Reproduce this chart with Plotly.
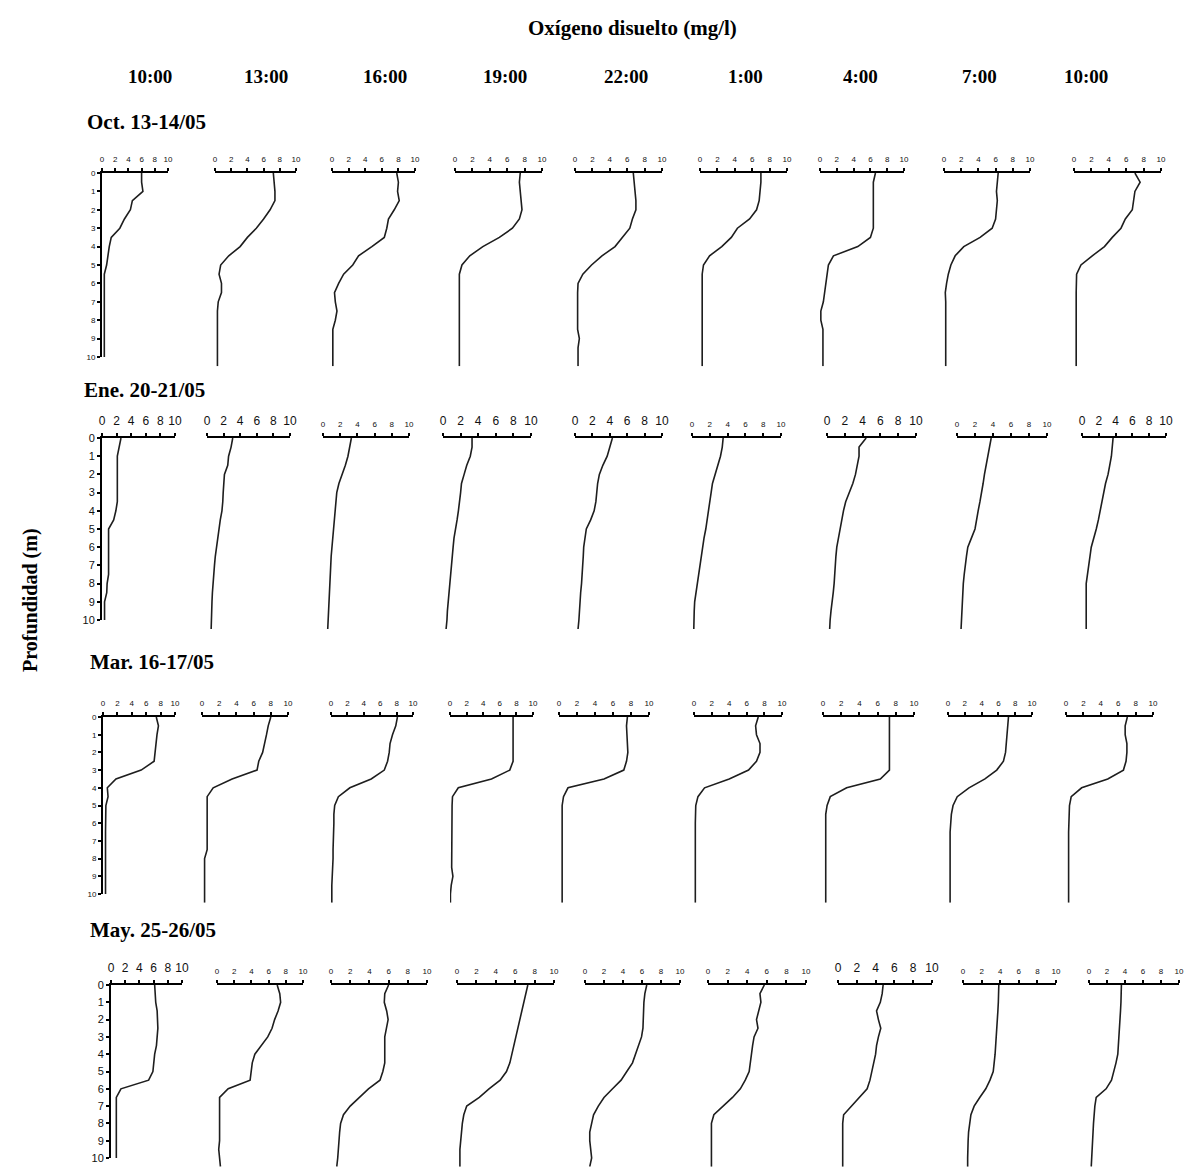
import plotly.graph_objects as go

W, H = 1198, 1174

# ---------------- data ----------------
depth = [0, 0.5, 1, 1.5, 2, 2.5, 3, 3.5, 4, 4.5, 5, 5.5, 6, 6.5, 7, 7.5, 8, 8.5, 9, 9.5, 10, 10.5]

times = ["10:00", "13:00", "16:00", "19:00", "22:00", "1:00", "4:00", "7:00", "10:00"]
campaigns = ["Oct. 13-14/05", "Ene. 20-21/05", "Mar. 16-17/05", "May. 25-26/05"]
x_tick_vals = [0, 2, 4, 6, 8, 10]
x_tick_text = ["0", "2", "4", "6", "8", "10"]
y_tick_vals = [0, 1, 2, 3, 4, 5, 6, 7, 8, 9, 10]
y_tick_text = ["0", "1", "2", "3", "4", "5", "6", "7", "8", "9", "10"]

oct_do = [
    [6.0, 6.0, 6.2, 4.6, 4.3, 3.4, 2.7, 1.4, 1.1, 0.9, 0.7, 0.35, 0.35, 0.35, 0.35, 0.35, 0.35, 0.35, 0.35, 0.35, 0.35, 0.35],
    [7.2, 7.3, 7.4, 7.4, 6.8, 6.0, 5.1, 4.0, 3.1, 1.7, 0.7, 0.5, 0.8, 0.8, 0.4, 0.3, 0.3, 0.3, 0.3, 0.3, 0.3, 0.3],
    [7.8, 8.0, 7.9, 8.1, 7.5, 6.8, 6.6, 6.3, 4.8, 3.2, 2.5, 1.4, 0.8, 0.3, 0.4, 0.6, 0.4, 0.1, 0.1, 0.1, 0.1, 0.1],
    [7.5, 7.4, 7.5, 7.6, 7.7, 7.4, 6.6, 5.1, 3.2, 1.7, 0.8, 0.5, 0.5, 0.5, 0.5, 0.5, 0.5, 0.5, 0.5, 0.5, 0.5, 0.5],
    [6.7, 6.8, 6.9, 7.0, 7.0, 6.6, 6.3, 5.4, 4.6, 3.1, 1.9, 0.9, 0.35, 0.3, 0.3, 0.3, 0.3, 0.3, 0.5, 0.35, 0.35, 0.35],
    [7.0, 7.0, 6.9, 6.8, 6.5, 5.7, 4.3, 3.6, 2.5, 1.1, 0.4, 0.25, 0.25, 0.25, 0.25, 0.25, 0.25, 0.25, 0.25, 0.25, 0.25, 0.25],
    [6.6, 6.35, 6.35, 6.35, 6.35, 6.35, 6.35, 6.0, 4.5, 1.6, 1.0, 0.85, 0.7, 0.55, 0.4, 0.1, 0.1, 0.35, 0.35, 0.35, 0.35, 0.35],
    [6.3, 6.2, 6.1, 6.2, 6.1, 6.0, 5.6, 4.2, 2.3, 1.3, 0.8, 0.5, 0.3, 0.15, 0.2, 0.2, 0.2, 0.2, 0.2, 0.2, 0.2, 0.2],
    [7.0, 7.6, 7.0, 6.85, 6.7, 5.9, 5.4, 4.4, 3.5, 2.1, 0.8, 0.3, 0.25, 0.25, 0.25, 0.25, 0.25, 0.25, 0.25, 0.25, 0.25, 0.25],
]

ene_do = [
    [2.6, 2.3, 2.1, 2.1, 2.1, 2.1, 2.1, 2.1, 1.9, 1.6, 0.9, 0.9, 0.9, 0.9, 0.9, 0.9, 0.7, 0.65, 0.35, 0.35, 0.35, 0.35],
    [3.1, 2.9, 2.6, 2.5, 2.1, 2.0, 1.95, 1.9, 1.8, 1.6, 1.45, 1.3, 1.1, 1.0, 0.9, 0.8, 0.7, 0.65, 0.6, 0.55, 0.5, 0.5],
    [3.3, 3.1, 2.9, 2.6, 2.2, 1.85, 1.6, 1.5, 1.4, 1.3, 1.2, 1.1, 1.0, 0.95, 0.9, 0.85, 0.8, 0.75, 0.7, 0.65, 0.6, 0.55],
    [3.3, 3.3, 3.1, 2.7, 2.4, 2.1, 2.0, 1.9, 1.75, 1.6, 1.4, 1.25, 1.15, 1.05, 0.95, 0.85, 0.75, 0.7, 0.6, 0.5, 0.45, 0.35],
    [4.3, 4.0, 3.7, 3.2, 2.8, 2.6, 2.5, 2.4, 2.2, 1.8, 1.3, 1.15, 1.0, 0.95, 0.9, 0.8, 0.75, 0.65, 0.6, 0.5, 0.45, 0.35],
    [3.5, 3.4, 3.2, 2.9, 2.6, 2.3, 2.15, 2.0, 1.9, 1.75, 1.55, 1.35, 1.2, 1.05, 0.9, 0.8, 0.65, 0.45, 0.3, 0.25, 0.2, 0.2],
    [4.4, 3.6, 3.6, 3.4, 3.2, 2.9, 2.5, 2.1, 1.85, 1.65, 1.5, 1.3, 1.1, 1.0, 0.95, 0.85, 0.8, 0.7, 0.55, 0.45, 0.35, 0.3],
    [3.8, 3.6, 3.4, 3.2, 3.05, 2.9, 2.75, 2.55, 2.35, 2.2, 2.0, 1.6, 1.2, 1.05, 0.9, 0.8, 0.7, 0.65, 0.6, 0.55, 0.5, 0.45],
    [3.7, 3.6, 3.5, 3.3, 3.1, 2.8, 2.6, 2.4, 2.15, 1.95, 1.7, 1.4, 1.1, 0.95, 0.8, 0.65, 0.5, 0.5, 0.5, 0.5, 0.5, 0.5],
]

mar_do = [
    [7.4, 7.7, 7.5, 7.4, 7.3, 7.1, 5.3, 1.8, 0.6, 0.7, 0.4, 0.35, 0.35, 0.35, 0.35, 0.35, 0.35, 0.35, 0.35, 0.35, 0.35, 0.35],
    [8.0, 7.7, 7.5, 7.3, 7.05, 6.6, 6.4, 3.5, 1.3, 0.6, 0.6, 0.6, 0.6, 0.6, 0.6, 0.6, 0.3, 0.3, 0.3, 0.3, 0.3, 0.3],
    [8.1, 7.9, 7.5, 7.2, 7.1, 6.9, 6.5, 4.9, 2.3, 0.9, 0.45, 0.35, 0.35, 0.3, 0.3, 0.25, 0.25, 0.2, 0.1, 0.1, 0.1, 0.1],
    [7.6, 7.6, 7.6, 7.6, 7.6, 7.6, 7.2, 5.0, 1.0, 0.3, 0.25, 0.25, 0.2, 0.2, 0.2, 0.2, 0.2, 0.2, 0.35, 0.15, 0.05, 0.05],
    [7.6, 7.5, 7.55, 7.6, 7.65, 7.5, 7.2, 5.0, 1.0, 0.5, 0.35, 0.35, 0.35, 0.35, 0.35, 0.35, 0.35, 0.35, 0.35, 0.35, 0.35, 0.35],
    [7.3, 7.0, 7.1, 7.5, 7.5, 7.1, 6.2, 4.0, 1.2, 0.45, 0.2, 0.15, 0.15, 0.15, 0.15, 0.15, 0.15, 0.15, 0.15, 0.15, 0.15, 0.15],
    [7.3, 7.3, 7.3, 7.3, 7.3, 7.3, 7.3, 6.3, 2.6, 0.8, 0.45, 0.3, 0.3, 0.3, 0.3, 0.3, 0.3, 0.3, 0.3, 0.3, 0.3, 0.3],
    [7.2, 7.1, 7.0, 6.9, 6.85, 6.6, 5.8, 4.4, 2.5, 1.1, 0.6, 0.4, 0.3, 0.25, 0.25, 0.25, 0.25, 0.25, 0.25, 0.25, 0.25, 0.25],
    [7.05, 6.8, 6.8, 7.0, 7.0, 6.9, 6.6, 4.8, 1.8, 0.6, 0.4, 0.35, 0.3, 0.3, 0.3, 0.3, 0.3, 0.3, 0.3, 0.3, 0.3, 0.3],
]

may_do = [
    [6.15, 6.2, 6.3, 6.5, 6.6, 6.6, 6.5, 6.4, 6.15, 6.0, 5.9, 5.3, 1.4, 0.75, 0.75, 0.75, 0.75, 0.75, 0.75, 0.75, 0.75, 0.75],
    [7.0, 7.3, 7.4, 7.1, 6.7, 6.4, 5.9, 5.1, 4.4, 4.1, 4.0, 3.85, 1.3, 0.3, 0.3, 0.3, 0.3, 0.3, 0.3, 0.2, 0.3, 0.4],
    [6.0, 5.6, 5.55, 5.8, 5.95, 5.75, 5.6, 5.6, 5.6, 5.6, 5.4, 5.1, 3.9, 3.0, 2.0, 1.3, 1.0, 0.9, 0.85, 0.8, 0.7, 0.6],
    [7.3, 7.1, 6.9, 6.7, 6.45, 6.25, 6.05, 5.85, 5.65, 5.45, 5.1, 4.45, 3.3, 2.3, 1.0, 0.7, 0.55, 0.45, 0.35, 0.3, 0.3, 0.3],
    [6.5, 6.3, 6.2, 6.15, 6.1, 6.1, 5.95, 5.65, 5.35, 5.0, 4.4, 3.8, 2.9, 2.0, 1.4, 0.9, 0.7, 0.5, 0.5, 0.6, 0.7, 0.5],
    [5.75, 5.3, 5.4, 5.2, 4.95, 5.1, 4.7, 4.55, 4.45, 4.3, 4.2, 3.8, 3.3, 2.5, 1.6, 0.6, 0.35, 0.35, 0.35, 0.35, 0.35, 0.35],
    [4.8, 4.7, 4.5, 4.1, 4.3, 4.55, 4.3, 4.1, 4.0, 3.8, 3.6, 3.4, 3.1, 2.3, 1.4, 0.6, 0.5, 0.5, 0.5, 0.5, 0.5, 0.5],
    [3.85, 3.85, 3.8, 3.75, 3.7, 3.65, 3.6, 3.55, 3.45, 3.35, 3.25, 2.9, 2.45, 1.8, 1.2, 0.85, 0.7, 0.6, 0.55, 0.5, 0.5, 0.5],
    [3.6, 3.6, 3.55, 3.5, 3.45, 3.4, 3.35, 3.3, 3.2, 3.0, 2.75, 2.5, 1.9, 0.8, 0.65, 0.55, 0.5, 0.45, 0.4, 0.3, 0.25, 0.25],
]

rows_data = [oct_do, ene_do, mar_do, may_do]

# ---------------- layout geometry (pixels) ----------------
row_y0 = [173, 438, 717, 985]       # pixel of depth 0 (top axis)
row_y10 = [357, 620, 894, 1158]     # pixel of depth 10
col_x = [
    [(102, 168), (215, 296), (332, 415), (455, 542), (575, 662), (700, 787), (820, 904), (944, 1030), (1074, 1161)],
    [(102, 175), (207, 290), (323, 409), (443, 531), (575, 662), (692, 781), (827, 916), (957, 1047), (1082, 1166)],
    [(103, 175), (202, 288), (331, 413), (450, 533), (559, 649), (694, 782), (823, 914), (948, 1032), (1066, 1153)],
    [(111, 182), (217, 303), (331, 427), (457, 554), (585, 680), (708, 806), (838, 932), (963, 1056), (1089, 1179)],
]
big_x_labels = [[], [0, 1, 3, 4, 6, 8], [], [0, 6]]
big_y_labels = [False, True, False, True]

time_x = [150, 266, 385, 505, 626, 745, 860, 980, 1086]
title_y_row = [122, 390, 662, 930]
title_x_row = [85, 82, 88, 88]

def fx(p):
    return p / W

def fy(p):
    return 1 - p / H

fig = go.Figure()
layout = dict(
    width=W, height=H, margin=dict(l=0, r=0, t=0, b=0, pad=0, autoexpand=False),
    paper_bgcolor="white", plot_bgcolor="rgba(0,0,0,0)", showlegend=False,
)

n = 0
for r, profiles in enumerate(rows_data):
    y0, y10 = row_y0[r], row_y10[r]
    pxm = (y10 - y0) / 10.0
    for c, vals in enumerate(profiles):
        n += 1
        sfx = "" if n == 1 else str(n)
        fig.add_trace(go.Scatter(
            x=vals, y=depth, mode="lines",
            line=dict(color="#1e1e1e", width=1.6),
            xaxis="x" + sfx, yaxis="y" + sfx, hoverinfo="skip",
        ))
        xa, xb = col_x[r][c]
        big = c in big_x_labels[r]
        layout["xaxis" + sfx] = dict(
            domain=[fx(xa), fx(xb)], range=[0, 10], side="top", anchor="y" + sfx,
            tickvals=x_tick_vals, ticktext=x_tick_text,
            tickfont=dict(family="Liberation Sans", size=12 if big else 8, color="#111"),
            showline=True, linecolor="black", linewidth=2,
            ticks="outside", ticklen=3, tickwidth=1.5, tickcolor="black",
            ticklabelstandoff=3, automargin=False,
            showgrid=False, zeroline=False, fixedrange=True,
        )
        if c == 0:
            bottom = y10
            yr = [10, 0]
        else:
            bottom = y0 + 10.5 * pxm
            yr = [10.5, 0]
        yax = dict(
            domain=[fy(bottom), fy(y0)], range=yr, anchor="x" + sfx,
            showgrid=False, zeroline=False, fixedrange=True, automargin=False,
        )
        if c == 0:
            yax.update(
                visible=True, showline=True, linecolor="black", linewidth=2,
                tickvals=y_tick_vals, ticktext=y_tick_text,
                ticks="outside", ticklen=3, tickwidth=1.5, tickcolor="black",
                tickfont=dict(family="Liberation Sans", size=11 if big_y_labels[r] else 8, color="#111"),
            )
        else:
            yax.update(visible=False)
        layout["yaxis" + sfx] = yax

annotations = []
annotations.append(dict(
    text="<b>Oxígeno disuelto (mg/l)</b>", x=fx(632), y=fy(28), xref="paper", yref="paper",
    showarrow=False, font=dict(family="Liberation Serif", size=21, color="black"),
    xanchor="center", yanchor="middle",
))
for t, xp in zip(times, time_x):
    annotations.append(dict(
        text="<b>" + t + "</b>", x=fx(xp), y=fy(76), xref="paper", yref="paper",
        showarrow=False, font=dict(family="Liberation Serif", size=19, color="black"),
        xanchor="center", yanchor="middle",
    ))
for lab, xp, yp in zip(campaigns, title_x_row, title_y_row):
    annotations.append(dict(
        text="<b>" + lab + "</b>", x=fx(xp), y=fy(yp), xref="paper", yref="paper",
        showarrow=False, font=dict(family="Liberation Serif", size=21, color="black"),
        xanchor="left", yanchor="middle",
    ))
annotations.append(dict(
    text="<b>Profundidad (m)</b>", x=fx(30), y=fy(600), xref="paper", yref="paper",
    showarrow=False, textangle=-90, font=dict(family="Liberation Serif", size=20, color="black"),
    xanchor="center", yanchor="middle",
))
layout["annotations"] = annotations
fig.update_layout(**layout)

fig.write_html("out.html", config={"displayModeBar": False},
               post_script="document.body.style.margin='0px';")
